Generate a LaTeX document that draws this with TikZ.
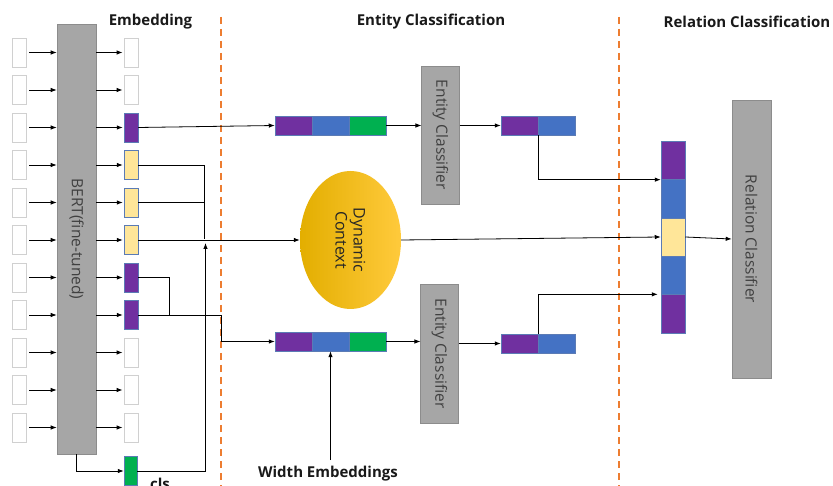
\documentclass[tikz,border=0pt]{standalone}
\usepackage{fontspec}
\setmainfont{Open Sans}
\usetikzlibrary{arrows.meta,shapes.geometric,calc}
\definecolor{pur}{HTML}{7030A0}
\definecolor{blu}{HTML}{4472C4}
\definecolor{grn}{HTML}{00B050}
\definecolor{yel}{HTML}{FFE699}
\definecolor{gry}{HTML}{A6A6A6}
\definecolor{gryb}{HTML}{8C8C8C}
\definecolor{segb}{HTML}{5B7BB5}
\definecolor{wbd}{HTML}{D0D0D0}
\definecolor{org}{HTML}{ED7D31}
\definecolor{txt}{HTML}{404040}
\definecolor{golda}{HTML}{E3AE00}
\definecolor{goldb}{HTML}{FFC000}
\definecolor{goldc}{HTML}{FFCA3C}
\begin{document}
\begin{tikzpicture}[x=1pt,y=-1pt,
  cell/.style={draw=wbd,line width=0.8pt,fill=white,minimum width=14pt,minimum height=29pt,inner sep=0pt},
  pcell/.style={cell,draw=segb,line width=0.5pt,fill=pur},
  ycell/.style={cell,draw=segb,line width=0.5pt,fill=yel},
  gcell/.style={cell,draw=segb,line width=0.5pt,fill=grn},
  seg/.style={draw=segb,line width=0.5pt,minimum width=37pt,minimum height=19pt,inner sep=0pt},
  rseg/.style={draw=segb,line width=0.5pt,minimum width=24pt,minimum height=38.4pt,inner sep=0pt},
  graybox/.style={draw=gryb,line width=0.6pt,fill=gry,inner sep=0pt},
  boxtext/.style={rotate=-90,text=txt,font=\fontsize{15.5}{17}\selectfont,inner sep=0pt},
  title/.style={text=black!90,font=\bfseries\fontsize{15}{17}\selectfont,inner sep=0pt},
  arr/.style={-{Latex[length=6pt,width=4.5pt]},line width=0.8pt,black},
  con/.style={line width=0.8pt,black},
  dashline/.style={draw=org,line width=1.8pt,dash pattern=on 7pt off 5pt}
]
\clip (0,0) rectangle (833,486);
\fill[white] (0,0) rectangle (833,486);

% titles
\node[title] (t1) at (150.5,22) {Embedding};
\node[title] (t2) at (431,22) {Entity Classification};
\node[title] (t3) at (747,22) {Relation Classification};

% dashed separators
\draw[dashline] (221,17) -- (221,490);
\draw[dashline] (619,17) -- (619,490);

% BERT
\node[graybox,minimum width=39pt,minimum height=430pt] (bert) at (76.5,239) {};
\node[boxtext] (bertt) at (bert.center) {BERT(fine-tuned)};

% inputs and embeddings
\foreach \i in {0,...,10}{
  \node[cell] (in\i) at (19,{52.5+37.5*\i}) {};
  \draw[arr,shorten <=3pt] (in\i) -- (bert.west |- in\i);
}
\foreach \i/\s in {0/cell,1/cell,2/pcell,3/ycell,4/ycell,5/ycell,6/pcell,7/pcell,8/cell,9/cell,10/cell}{
  \node[\s] (emb\i) at (131,{52.5+37.5*\i}) {};
  \draw[arr,shorten >=1pt] (bert.east |- emb\i) -- (emb\i);
}
% cls
\node[gcell,minimum width=13pt] (cls) at (130.5,471) {};
\node[title,anchor=north west] (clst) at (150,478) {cls};
\draw[arr] (bert.south) |- (cls.west);

% entity vectors
\node[seg,fill=pur] (ev1a) at (293.5,125.5) {};
\node[seg,fill=blu] (ev1b) at (330.5,125.5) {};
\node[seg,fill=grn] (ev1c) at (367.5,125.5) {};
\node[seg,fill=pur] (ev2a) at (293.5,341.5) {};
\node[seg,fill=blu] (ev2b) at (330.5,341.5) {};
\node[seg,fill=grn] (ev2c) at (367.5,341.5) {};

% context
\node[ellipse,minimum width=101pt,minimum height=138pt,left color=golda,middle color=goldb,right color=goldc,draw=none] (ctx) at (350.5,240) {};
\node[rotate=-90,text=black!85,font=\fontsize{16}{18}\selectfont,align=center] (ctxt) at (ctx.center) {Dynamic\\Context};

% connectors from embeddings
\coordinate (jy) at (204,239.5);
\draw[con] (emb3.east) -| (jy);
\draw[con] (emb4.east) -- (emb4.east -| jy);
\draw[arr] (emb5.east) -- (ctx.west);
\coordinate (clsup) at (205.5,243);
\draw[arr] (cls.east) -| (clsup);
\draw[arr] (emb2.east) -- (ev1a.west);
\coordinate (pj) at (169,315);
\draw[con] (emb6.east) -| (pj);
\coordinate (bend) at (221,315);
\draw[arr] (emb7.east) -- (bend) |- (ev2a.west);

% entity classifiers
\node[graybox,minimum width=37.5pt,minimum height=138pt] (ec1) at (440.5,135) {};
\node[boxtext] (ec1t) at (ec1.center) {Entity Classifier};
\node[graybox,minimum width=37.5pt,minimum height=139pt] (ec2) at (439.5,353.5) {};
\node[boxtext] (ec2t) at (ec2.center) {Entity Classifier};
\draw[arr] (ev1c.east) -- (ec1.west |- ev1c);
\draw[arr] (ev2c.east) -- (ec2.west |- ev2c);

% entity outputs
\node[seg,fill=pur] (eo1a) at (519.5,125.5) {};
\node[seg,fill=blu] (eo1b) at (556.5,125.5) {};
\node[seg,fill=pur] (eo2a) at (519.5,343.5) {};
\node[seg,fill=blu] (eo2b) at (556.5,343.5) {};
\draw[arr] (ec1.east |- eo1a) -- (eo1a.west);
\draw[arr] (ec2.east |- eo2a) -- (eo2a.west);

% relation vector
\node[rseg,fill=pur] (rv1) at (673,160.2) {};
\node[rseg,fill=blu] (rv2) at (673,198.6) {};
\node[rseg,fill=yel] (rv3) at (673,237) {};
\node[rseg,fill=blu] (rv4) at (673,275.4) {};
\node[rseg,fill=pur] (rv5) at (673,313.8) {};
\draw[arr] (eo1a.south east) |- (rv1.south west);
\draw[arr,shorten >=3pt] (eo2a.north east) |- (rv5.north west);
\draw[arr] (ctx.east) -- (rv3.west);

% relation classifier
\node[graybox,minimum width=39pt,minimum height=278pt] (rc) at (751.5,239) {};
\node[boxtext] (rct) at (rc.center) {Relation Classifier};
\draw[arr] (rv3.east) -- (rc.west);

% width embeddings
\node[title] (we) at (328,474) {Width Embeddings};
\draw[arr] (ev2b.south |- 0,460) -- (ev2b.south);
\end{tikzpicture}
\end{document}
